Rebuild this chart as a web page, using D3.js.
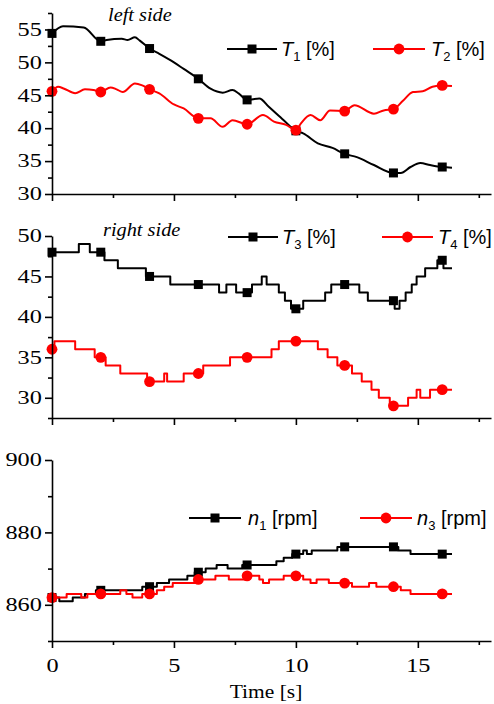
<!DOCTYPE html>
<html>
<head>
<meta charset="utf-8">
<script src="https://cdn.jsdelivr.net/npm/d3@7/dist/d3.min.js"></script>
<style>
  body { margin: 0; background: #fff; }
</style>
</head>
<body>
<div id="chart"></div>
<script>
// time ticks and the times where the markers sit
var timeMajor = [0, 5, 10, 15];
var timeMinor = [2.5, 7.5, 12.5, 17.5];
var markerTimes = [0, 2, 4, 6, 8, 10, 12, 14, 16];

// left side (smooth traces) [t, %]
var t1 = [[0,54.4],[0.45,55.5],[1.3,55.3],[2,53.2],[2.24,53.4],[2.86,53.6],[3.1,53.4],[3.4,53.8],[3.6,53.3],
  [4,52.1],[4.4,51.3],[5,50.0],[5.4,49.0],[6,47.5],[6.5,46.0],[7,45.4],[7.4,45.8],[7.65,45.3],[8,44.3],
  [8.5,44.5],[8.9,43.2],[9.5,41.2],[10,39.6],[10.3,39.2],[10.9,37.7],[11.5,37.0],[12,36.1],[12.5,35.6],
  [13.2,34.4],[14,33.2],[14.3,33.2],[14.7,34.1],[15.1,34.7],[15.5,34.4],[16,34.1],[16.4,34.0]];
var t2 = [[0,45.6],[0.25,46.3],[0.5,46.0],[0.95,45.3],[1.35,45.9],[1.7,45.8],[2,45.5],[2.4,46.2],[2.65,45.9],
  [2.9,45.5],[3.4,46.8],[3.7,46.5],[4,45.9],[4.4,45.3],[5,43.6],[5.4,43.0],[6,41.5],[6.5,41.5],[7,40.2],
  [7.4,41.2],[8,40.6],[8.65,42.0],[9.1,41.0],[9.6,40.5],[10,39.7],[10.2,40.7],[10.6,42.0],[11,41.2],
  [11.4,42.7],[12,42.6],[12.4,43.5],[13.2,42.2],[13.6,42.7],[14,42.9],[14.4,44.2],[14.8,45.5],[15.2,45.6],
  [15.6,46.3],[16,46.5],[16.4,46.4]];

// right side (stepped traces) [t, %]
var t3 = [[0,48],[1.1,49],[1.55,48],[2.15,47],[2.7,46],[3.85,45],[4.85,44],[6.85,43],[7.15,44],[7.55,43],
  [8.2,44],[8.6,45],[8.8,44],[9.3,43],[9.55,42],[9.8,41],[10.3,42],[11.2,43],[11.45,44],[12.6,43],
  [12.95,42],[14.05,41],[14.25,42],[14.5,43],[14.75,44],[14.95,45],[15.3,46],[15.8,47],[16.05,46],[16.4,46]];
var t4 = [[0,36],[0.1,37],[0.95,36],[1.75,35],[2.2,34],[2.8,33],[3.9,32],[4.6,33],[4.72,32],[5.4,33],
  [6.2,34],[7.3,35],[9.0,36],[9.3,37],[10.9,36],[11.3,35],[11.7,34],[12.3,33],[12.7,32],[13.1,31],
  [13.4,30],[13.85,29],[14.6,30],[14.95,31],[15.1,30],[15.5,31],[16.4,31]];

// speeds [t, rpm]
var n1 = [[0,862],[0.3,861],[0.85,862],[1.35,863],[1.8,864],[3.7,865],[4.3,866],[4.8,867],[5.55,868],
  [5.85,869],[6.3,870],[6.75,871],[7.2,870],[7.8,871],[9.2,872],[9.5,873],[9.85,874],[10.3,875],
  [10.45,874],[10.65,875],[11.7,876],[14.2,875],[14.7,874],[16.4,874]];
var n3 = [[0,862],[0.6,863],[1.2,862],[1.45,863],[2.8,864],[3.05,863],[3.3,862],[3.7,863],[4.3,864],
  [4.6,865],[4.95,866],[5.9,867],[6.7,868],[7.25,867],[7.9,868],[8.5,867],[8.65,866],[8.9,867],[9.5,868],
  [10.3,867],[10.6,866],[10.85,867],[11.35,866],[12.3,865],[13.0,866],[13.3,865],[14.3,864],[14.7,863],
  [16.4,863]];

var width = 494, height = 704;
var serif = "'Liberation Serif', 'Times New Roman', serif";
var sans = "'Liberation Sans', Arial, sans-serif";

var x = d3.scaleLinear().domain([0, 18]).range([52, 491]);

var panels = [
  {bottom: 194, top: 13, domain: [30, 57.5], major: [30,35,40,45,50,55], minor: [32.5,37.5,42.5,47.5,52.5,57.5],
   curve: d3.curveMonotoneX, series: [t1, t2], names: ["T", "T"], subs: ["1", "2"], unit: " [%]",
   note: "left side", noteX: 108, noteY: 21, legendY: 49,
   legend: [{x0: 227, x1: 277, tx: 281}, {x0: 373, x1: 425, tx: 431}], xlabels: false},
  {bottom: 418, top: 236, domain: [27.5, 50], major: [30,35,40,45,50], minor: [27.5,32.5,37.5,42.5,47.5],
   curve: d3.curveStepAfter, series: [t3, t4], names: ["T", "T"], subs: ["3", "4"], unit: " [%]",
   note: "right side", noteX: 103, noteY: 236, legendY: 237,
   legend: [{x0: 228, x1: 278, tx: 282}, {x0: 382, x1: 433, tx: 438}], xlabels: false},
  {bottom: 641, top: 460, domain: [850, 900], major: [860,880,900], minor: [850,870,890],
   curve: d3.curveStepAfter, series: [n1, n3], names: ["n", "n"], subs: ["1", "3"], unit: " [rpm]",
   note: null, legendY: 518,
   legend: [{x0: 189, x1: 241, tx: 248}, {x0: 360, x1: 412, tx: 417}], xlabels: true}
];

var colors = ["#000000", "#ff0000"];

var svg = d3.select("#chart").append("svg")
    .attr("width", width)
    .attr("height", height)
    .style("background", "#fff");

function valueAt(data, t) {
  var v = data[0][1];
  data.forEach(function(p) { if (p[0] <= t + 1e-9) v = p[1]; });
  return v;
}

function drawMarker(g, kind, cx, cy, color) {
  if (kind == 0) {
    g.append("rect")
      .attr("x", cx - 4.5).attr("y", cy - 4.5)
      .attr("width", 9).attr("height", 9)
      .attr("fill", color);
  } else {
    g.append("circle")
      .attr("cx", cx).attr("cy", cy).attr("r", 5.4)
      .attr("fill", color);
  }
}

panels.forEach(function(p) {
  var y = d3.scaleLinear().domain(p.domain).range([p.bottom, p.top]);
  var g = svg.append("g");

  // lines
  var line = d3.line()
      .x(function(d) { return x(d[0]); })
      .y(function(d) { return y(d[1]); })
      .curve(p.curve);

  p.series.forEach(function(data, i) {
    g.append("path")
      .datum(data)
      .attr("fill", "none")
      .attr("stroke", colors[i])
      .attr("stroke-width", 2)
      .attr("stroke-linejoin", "round")
      .attr("d", line);
    var mg = g.append("g");
    markerTimes.forEach(function(t) {
      drawMarker(mg, i, x(t), y(valueAt(data, t)), colors[i]);
    });
  });

  // y axis
  var yMinor = g.append("g")
      .attr("transform", "translate(52,0)")
      .call(d3.axisLeft(y).tickValues(p.minor).tickSize(4).tickSizeOuter(0).tickFormat(""));
  yMinor.select(".domain").remove();
  var yMajor = g.append("g")
      .attr("transform", "translate(52,0)")
      .call(d3.axisLeft(y).tickValues(p.major).tickSize(7).tickSizeOuter(0).tickPadding(0.5).tickFormat(d3.format("d")));
  yMajor.selectAll("text")
      .attr("font-family", serif)
      .attr("font-size", 18)
      .attr("fill", "#000")
      .attr("transform", "scale(1.35,1)");

  // x axis
  var xMinor = g.append("g")
      .attr("transform", "translate(0," + p.bottom + ")")
      .call(d3.axisBottom(x).tickValues(timeMinor).tickSize(4).tickSizeOuter(0).tickFormat(""));
  xMinor.select(".domain").remove();
  var xMajor = g.append("g")
      .attr("transform", "translate(0," + p.bottom + ")")
      .call(d3.axisBottom(x).tickValues(timeMajor).tickSize(7).tickSizeOuter(0).tickPadding(11.5)
        .tickFormat(p.xlabels ? d3.format("d") : ""));
  xMajor.selectAll("text")
      .attr("font-family", serif)
      .attr("font-size", 18)
      .attr("fill", "#000")
      .attr("transform", "scale(1.35,1)");

  g.selectAll(".domain, .tick line")
      .attr("stroke", "#000")
      .attr("stroke-width", 1.6);

  // side note
  if (p.note) {
    g.append("text")
      .attr("transform", "translate(" + p.noteX + "," + p.noteY + ") scale(1.13,1)")
      .attr("font-family", serif)
      .attr("font-style", "italic")
      .attr("font-size", 18)
      .attr("fill", "#000")
      .text(p.note);
  }

  // legend
  p.legend.forEach(function(l, i) {
    var lg = g.append("g");
    lg.append("line")
      .attr("x1", l.x0).attr("x2", l.x1)
      .attr("y1", p.legendY).attr("y2", p.legendY)
      .attr("stroke", colors[i])
      .attr("stroke-width", 2.2);
    drawMarker(lg, i, (l.x0 + l.x1) / 2, p.legendY, colors[i]);
    var txt = lg.append("text")
      .attr("x", l.tx)
      .attr("y", p.legendY + 7)
      .attr("font-family", sans)
      .attr("font-size", 20)
      .attr("fill", "#000");
    txt.append("tspan").attr("font-style", "italic").text(p.names[i]);
    txt.append("tspan").attr("font-size", 13).attr("dy", 5).text(p.subs[i]);
    txt.append("tspan").attr("dy", -5).text(p.unit);
  });
});

// x axis title
svg.append("text")
    .attr("transform", "translate(266,698) scale(1.13,1)")
    .attr("text-anchor", "middle")
    .attr("font-family", serif)
    .attr("font-size", 19)
    .attr("fill", "#000")
    .text("Time [s]");
</script>
</body>
</html>
